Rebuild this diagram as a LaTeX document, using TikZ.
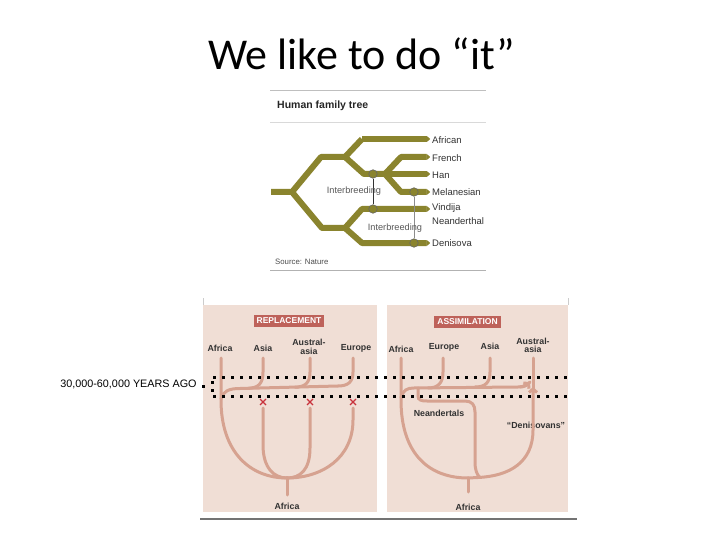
\documentclass[tikz,border=0pt]{standalone}
\usepackage{fontspec}
\setmainfont{Carlito}
\newfontfamily\arial{Liberation Sans}
\usetikzlibrary{arrows.meta}
\definecolor{olv}{RGB}{138,132,46}
\definecolor{pnk}{RGB}{240,222,213}
\definecolor{brn}{RGB}{214,162,144}
\definecolor{tagc}{RGB}{190,98,90}
\definecolor{xred}{RGB}{200,50,60}
\definecolor{txtc}{RGB}{50,50,50}
\begin{document}
\begin{tikzpicture}[x=1pt,y=-1pt,
  treeline/.style={draw=olv,line width=6pt,line join=round},
  treetip/.style={-{Triangle[length=4pt 0 0,width=6.5pt 0 0,round]}},
  tlab/.style={anchor=west,inner sep=0pt,font=\arial\fontsize{9.5}{10}\selectfont,text=black!80},
  ibr/.style={inner sep=0pt,font=\arial\fontsize{9.2}{10}\selectfont,text=black!65},
  ring/.style={circle,draw=black!60,fill=olv,minimum size=8.5pt,inner sep=0pt,line width=0.6pt},
  pline/.style={draw=brn,line width=3pt,line cap=round},
  plab/.style={inner sep=0pt,align=center,font=\arial\bfseries\fontsize{8.8}{8.8}\selectfont,text=txtc},
  tagbox/.style={fill=tagc,text=white,inner xsep=3pt,inner ysep=2.5pt,font=\arial\bfseries\fontsize{8.5}{8.5}\selectfont},
  xmark/.style={draw=xred,line width=1.3pt},
  dotline/.style={draw=black,line width=3pt,dash pattern=on 3pt off 6pt}
]
\useasboundingbox[fill=white] (0,0) rectangle (720,540);

% ---------- title ----------
\node[anchor=base,inner sep=0pt,font=\fontsize{44}{48}\selectfont] (title) at (361.5,70) {We like to do “it”};

% ---------- human family tree ----------
\draw[black!25,line width=0.8pt] (270,90) -- (486,90);
\draw[black!15,line width=0.8pt] (270,122) -- (486,122);
\draw[black!30,line width=0.8pt] (270,270) -- (486,270);
\node[anchor=west,inner sep=0pt,font=\arial\bfseries\fontsize{10.5}{11}\selectfont,text=black!85] (htitle) at (277,106) {Human family tree};
\node[anchor=west,inner sep=0pt,font=\arial\fontsize{7.8}{8}\selectfont,text=black!70] (src) at (275,262) {Source: Nature};

\coordinate (root) at (271,192);
\coordinate (j0) at (292,192);
\coordinate (tAfr) at (430,139);
\coordinate (tFre) at (430,157);
\coordinate (tHan) at (430,174);
\coordinate (tMel) at (430,192);
\coordinate (tVin) at (430,209);
\coordinate (tDen) at (430,243);

\draw[treeline] (root) -- (j0) -- (321,157) -- (345,157) -- (362,139);
\draw[treeline,treetip] (362,139) -- (tAfr);
\draw[treeline] (345,157) -- (364,174) -- (385,174);
\draw[treeline,treetip] (385,174) -- (tHan);
\draw[treeline,treetip] (385,174) -- (401,157) -- (tFre);
\draw[treeline,treetip] (385,174) -- (401,192) -- (tMel);
\draw[treeline] (j0) -- (322,228) -- (345,228);
\draw[treeline,treetip] (345,228) -- (362,209) -- (tVin);
\draw[treeline,treetip] (345,228) -- (362,243) -- (tDen);

\node[ring] (c1) at (373,174) {};
\node[ring] (c2) at (373,209) {};
\node[ring] (c3) at (414,192) {};
\node[ring] (c4) at (414,243) {};
\draw[black!80,line width=0.7pt] (c1) -- (c2);
\draw[black!45,line width=0.7pt] (c3) -- (c4);

\node[ibr] (ib1) at (354,191) {Interbreeding};
\node[ibr] (ib2) at (395,228) {Interbreeding};

\node[tlab] (lAfr) at (432,140) {African};
\node[tlab] (lFre) at (432,158) {French};
\node[tlab] (lHan) at (432,175) {Han};
\node[tlab] (lMel) at (432,192) {Melanesian};
\node[tlab] (lVin) at (432,208) {Vindija};
\node[tlab] (lNea) at (432,221) {Neanderthal};
\node[tlab] (lDen) at (432,243) {Denisova};

% ---------- panels ----------
\draw[black!20,line width=0.8pt] (203,298) -- (203,305);
\draw[black!20,line width=0.8pt] (568,298) -- (568,305);
\fill[pnk] (203,305) rectangle (377,512);
\fill[pnk] (387,305) rectangle (568,512);
\draw[black!55,line width=1.5pt] (200,519) -- (577,519);

% left panel: replacement
\node[tagbox] (rep) at (289,321) {REPLACEMENT};
\node[plab] (lA1) at (220,348) {Africa};
\node[plab] (lA2) at (263,348) {Asia};
\node[plab] (lA3) at (309,347) {Austral-\\[-0.5pt]asia};
\node[plab] (lA4) at (356,348) {Europe};
\node[plab] (lA5) at (287,506) {Africa};

\coordinate (mL) at (287,478);
\draw[pline] (221,358) -- (221,400) .. controls (221,452) and (250,478) .. (mL);
\draw[pline] (263,408) -- (263,445) .. controls (263,468) and (274,478) .. (mL);
\draw[pline] (310,408) -- (310,448) .. controls (310,470) and (300,478) .. (mL);
\draw[pline] (353,408) -- (353,420) .. controls (353,458) and (322,478) .. (mL);
\draw[pline] (mL) -- (287,495);
\draw[pline] (221,399) .. controls (223,391) and (229,388.5) .. (240,388.5) -- (338,386);
\draw[pline] (263,358) -- (263,372) .. controls (263,384) and (258,388) .. (248,388.3);
\draw[pline] (310,358) -- (310,372) .. controls (310,383) and (305,387) .. (295,387.2);
\draw[pline] (353,358) -- (353,372) .. controls (353,382) and (348,386) .. (338,386);

\foreach \xx/\nm in {263/xa,310/xb,353/xc}{
  \coordinate (\nm) at (\xx,402);
  \draw[xmark] ([shift={(-3,-3)}]\nm) -- ([shift={(3,3)}]\nm);
  \draw[xmark] ([shift={(-3,3)}]\nm) -- ([shift={(3,-3)}]\nm);
}

% right panel: assimilation
\node[tagbox] (asm) at (467.5,322) {ASSIMILATION};
\node[plab] (lB1) at (401,349) {Africa};
\node[plab] (lB2) at (444,347) {Europe};
\node[plab] (lB3) at (490,346) {Asia};
\node[plab] (lB4) at (533,345.5) {Austral-\\[-0.5pt]asia};
\node[plab] (lB5) at (468,507) {Africa};
\node[plab] (nea) at (439,413) {Neandertals};
\node[plab] (den) at (536,425) {“Denisovans”};

\coordinate (mR) at (468,478);
\draw[pline] (401,358) -- (401,400) .. controls (401,455) and (430,478) .. (mR);
\draw[pline] (mR) -- (468,492);
\draw[pline,-{Straight Barb[length=3.5pt 0 0,width=8pt 0 0]}] (mR) -- (478,477.5) .. controls (510,476) and (533,462) .. (533,430) -- (533,387);
\draw[pline] (533,358) -- (533,392);
\draw[pline] (401,398) .. controls (403,390) and (407,388) .. (414,388) -- (518,387) .. controls (524,387) and (527,385) .. (530,382);
\draw[pline,shorten >=0pt,-{Straight Barb[length=3.5pt 0 0,width=8pt 0 0]}] (520,387) .. controls (524,387) and (527,385) .. (530,382);
\draw[pline] (443,358) -- (443,372) .. controls (443,383) and (438,388) .. (428,388);
\draw[pline] (490,358) -- (490,372) .. controls (490,383) and (485,387) .. (475,387);
\draw[pline] (418,388) -- (418,396) .. controls (418,400) and (421,401) .. (427,401) -- (465,401) .. controls (472,401) and (475,405) .. (475,412) -- (475,462) .. controls (475,470) and (477,475) .. (480,477.5);

% ---------- dotted time band ----------
\draw[dotline] (213,377) -- (567,377);
\draw[dotline] (213,396) -- (567,396);
\fill[black] (210.5,380.5) rectangle (213.5,383.5);
\fill[black] (210.5,388.5) rectangle (213.5,391.5);
\fill[black] (202,384.5) rectangle (205,387.5);
\node[inner sep=0pt,font=\arial\fontsize{10.8}{11}\selectfont] (yrs) at (128.5,384) {30,000-60,000 YEARS AGO};
\end{tikzpicture}
\end{document}
